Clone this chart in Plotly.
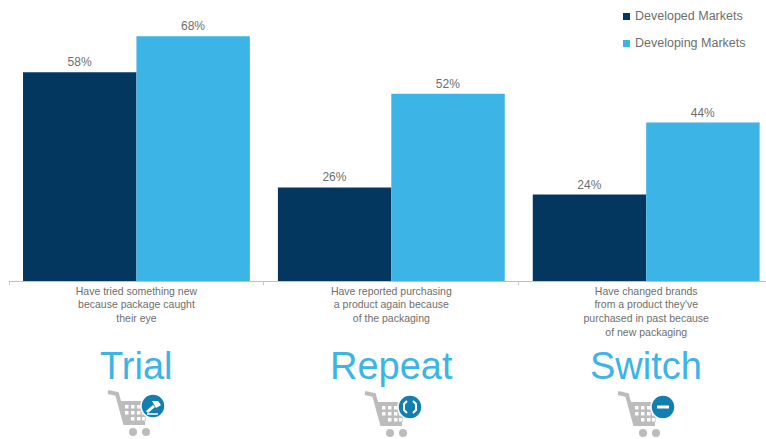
import plotly.graph_objects as go

# Chart data
categories = [
    "Have tried something new<br>because package caught<br>their eye",
    "Have reported purchasing<br>a product again because<br>of the packaging",
    "Have changed brands<br>from a product they've<br>purchased in past because<br>of new packaging",
]
stages = ["Trial", "Repeat", "Switch"]
series_names = ["Developed Markets", "Developing Markets"]
developed = [58, 26, 24]
developing = [68, 52, 44]

NAVY = "#03375f"
SKY = "#3cb4e5"
GREY = "#6e6e6e"
CART = "#bcbcbc"
BADGE = "#127fb0"
FONT = "Liberation Sans, Arial, sans-serif"

W, H = 766, 439
BASE = 281  # pixel row of the category axis


def px(x):
    return (x - 9) / (W - 9)


def py(y):
    return (BASE - y) / BASE


fig = go.Figure()
for name, vals, col in zip(series_names, [developed, developing], [NAVY, SKY]):
    fig.add_bar(
        x=categories, y=vals, name=name, marker=dict(color=col, line_width=0),
        text=[f"{v}%" for v in vals], textposition="outside", cliponaxis=False,
        textfont=dict(size=12, color=GREY, family=FONT), showlegend=False,
    )

shapes = []
annotations = []

# Key in the top right corner
for name, col, y in zip(series_names, [NAVY, SKY], [16, 43]):
    shapes.append(dict(type="rect", xref="paper", yref="paper", x0=px(623), x1=px(630),
                       y0=py(y + 4), y1=py(y - 3), fillcolor=col, line_width=0))
    annotations.append(dict(text=name, xref="paper", yref="paper", x=px(633), y=py(y),
                            xanchor="left", yanchor="middle", showarrow=False,
                            font=dict(size=12.5, color=GREY, family=FONT)))

# Large stage names under the descriptions
for i, stage in enumerate(stages):
    annotations.append(dict(text=stage, xref="x", yref="paper", x=i, y=py(366),
                            xanchor="center", yanchor="middle", showarrow=False,
                            font=dict(size=38, color=SKY, family=FONT)))


def anchored(ax, ay, **kw):
    return dict(xref="paper", yref="paper", xanchor=px(ax), yanchor=py(ay),
                xsizemode="pixel", ysizemode="pixel", **kw)


def dot(ax, ay, cx, cy, r, fill, line=None):
    shapes.append(anchored(ax, ay, type="circle", x0=cx - r, x1=cx + r, y0=-(cy - r), y1=-(cy + r),
                           fillcolor=fill,
                           line=dict(width=1.5, color=line) if line else dict(width=0)))


def path(ax, ay, pts, fill=None, line=None, width=0):
    d = "M" + " L".join(f"{x},{-y}" for x, y in pts)
    if fill:
        d += " Z"
    shapes.append(anchored(ax, ay, type="path", path=d,
                           fillcolor=fill if fill else "rgba(0,0,0,0)",
                           line=dict(width=width, color=line) if line else dict(width=0)))


def cart(ax, ay):
    # Handle and frame
    path(ax, ay, [(0, 0), (9, 2), (17, 31), (37, 31)], line=CART, width=4)
    # Basket
    path(ax, ay, [(12, 9), (38, 9), (38, 29), (17, 29)], fill=CART)
    for cy in (13, 19, 25):
        for cx in (17, 23, 29, 34):
            if cx - 1 > 12 + (cy - 9) * 0.25:
                path(ax, ay, [(cx, cy), (cx + 3.5, cy), (cx + 3.5, cy + 3.5), (cx, cy + 3.5)], fill="white")
    # Wheels
    dot(ax, ay, 25, 40, 4, CART)
    dot(ax, ay, 38, 40, 4, CART)
    # Badge
    dot(ax, ay, 45, 14, 12, BADGE, "white")


# Trial: cart with a gavel on the badge
cart(108, 392)
path(108, 392, [(38, 19), (45, 13), (47, 15), (40, 21)], fill="white")
path(108, 392, [(44, 9), (50, 9), (53, 13), (48, 16)], fill="white")
path(108, 392, [(39, 22), (50, 22)], line="white", width=1.5)

# Repeat: cart with two opposing arcs
cart(365, 393)
for sign in (-1, 1):
    path(365, 393, [(45 + sign * 3, 8), (45 + sign * 6, 11), (45 + sign * 6, 17), (45 + sign * 3, 20)],
         line="white", width=2)

# Switch: cart with a minus sign
cart(618, 393)
path(618, 393, [(39, 14), (51, 14)], line="white", width=3)

fig.update_layout(
    width=W, height=H,
    margin=dict(l=9, r=0, t=0, b=H - BASE),
    paper_bgcolor="white", plot_bgcolor="white",
    barmode="group", bargap=0.11, bargroupgap=0,
    showlegend=False,
    shapes=shapes, annotations=annotations,
    font=dict(family=FONT, color=GREY),
    xaxis=dict(type="category", range=[-0.5, 2.47], tickson="boundaries",
               ticks="outside", ticklen=3, tickcolor="#c8c8c8",
               showline=True, linecolor="#c0c0c0", linewidth=1,
               showgrid=False, tickangle=0, automargin=False,
               tickfont=dict(size=10.5, color=GREY, family=FONT)),
    yaxis=dict(range=[0, BASE / 3.6], visible=False),
)

fig.write_html("out.html", config=dict(displayModeBar=False))
